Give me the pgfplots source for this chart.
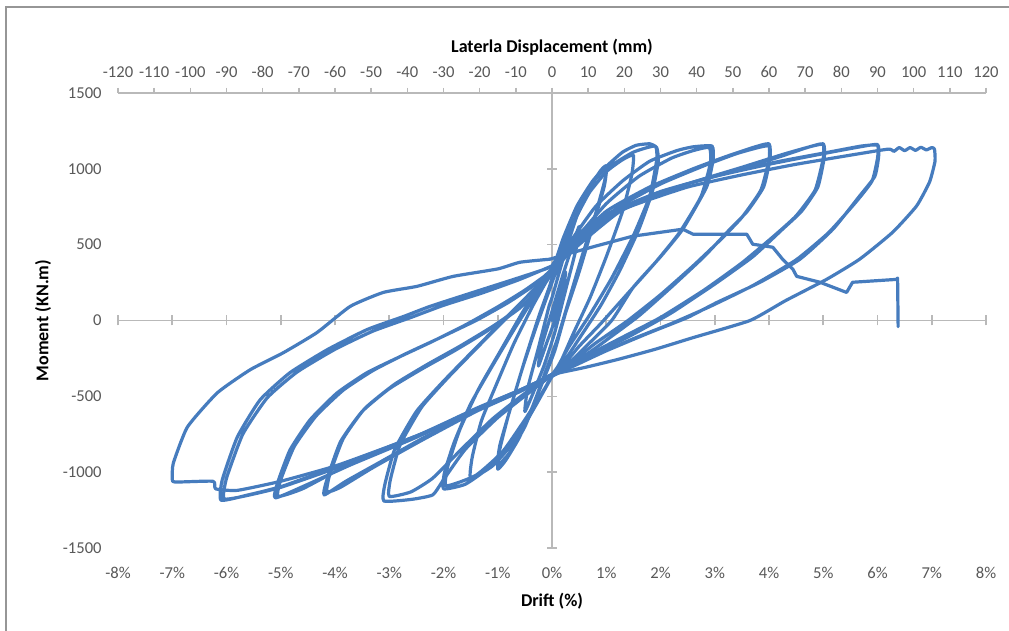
\documentclass[border=0pt]{standalone}
\usepackage{fontspec}
\setmainfont{Carlito}
\usepackage{pgfplots}
\pgfplotsset{compat=1.18}
\definecolor{series}{RGB}{70,124,190}
\definecolor{axgray}{RGB}{185,185,185}
\definecolor{lblgray}{RGB}{89,89,89}
\definecolor{framegray}{RGB}{150,150,150}
\begin{document}
\begin{tikzpicture}
\useasboundingbox (0,0) rectangle (504.5pt,315.5pt);
\fill[white] (0,0) rectangle (504.5pt,315.5pt);
\draw[framegray, line width=0.8pt] (3pt,0) -- (3pt,312pt) -- (504.5pt,312pt);
\pgfplotsset{common/.style={scale only axis, width=434pt, height=227.5pt, at={(59pt,41.5pt)}, anchor=south west, ymin=-1500, ymax=1500},
  hyst/.style={draw=series, mark=none, solid, line width=1.6pt, line join=round, line cap=round, smooth, tension=0.3}}
% top displacement axis
\begin{axis}[common, xmin=-120, xmax=120,
  axis x line=top, axis y line=none,
  xtick={-120,-110,...,120},
  xticklabels={-120,-110,-100,-90,-80,-70,-60,-50,-40,-30,-20,-10,0,10,20,30,40,50,60,70,80,90,100,110,120},
  tick align=outside, major tick length=2.5pt,
  x axis line style={-, draw=axgray, line width=0.8pt},
  tick style={draw=axgray, line width=0.8pt},
  xticklabel style={font=\fontsize{8.3}{10}\selectfont, text=lblgray, anchor=center, yshift=8pt, inner sep=0pt},
  xlabel={Laterla Displacement (mm)},
  every axis x label/.style={at={(axis description cs:0.5,1.101)}, anchor=center, font=\fontsize{9}{11}\selectfont\bfseries, text=black}]
\end{axis}
% labels axis
\begin{axis}[common, xmin=-8, xmax=8,
  axis x line=bottom, axis y line=left,
  axis line style={draw=none}, tick style={draw=none}, major tick length=0pt,
  xtick={-8,-7,...,8},
  xticklabels={-8\%,-7\%,-6\%,-5\%,-4\%,-3\%,-2\%,-1\%,0\%,1\%,2\%,3\%,4\%,5\%,6\%,7\%,8\%},
  ytick={-1500,-1000,-500,0,500,1000,1500},
  yticklabels={-1500,-1000,-500,0,500,1000,1500},
  xticklabel style={font=\fontsize{8.3}{10}\selectfont, text=lblgray, anchor=center, yshift=-12.5pt, inner sep=0pt},
  yticklabel style={font=\fontsize{8.3}{10}\selectfont, text=lblgray, anchor=east, xshift=-8pt, inner sep=0pt},
  xlabel={Drift (\%)}, ylabel={Moment (KN.m)},
  every axis x label/.style={at={(axis description cs:0.5,-0.1165)}, anchor=center, font=\fontsize{9}{11}\selectfont\bfseries, text=black},
  every axis y label/.style={at={(axis description cs:-0.0864,0.5)}, anchor=center, rotate=90, font=\fontsize{9}{11}\selectfont\bfseries, text=black}]
\end{axis}
% data axis
\begin{axis}[common, xmin=-8, xmax=8,
  axis lines=middle, axis line style={-, draw=axgray, line width=0.8pt},
  xtick={-8,-7,...,8}, ytick={-1500,-1000,-500,0,500,1000,1500},
  xticklabels={}, yticklabels={},
  tick align=center, major tick length=5pt,
  tick style={draw=axgray, line width=0.8pt}, clip=false]
\addplot[hyst] coordinates {(0,0) (0.1,150) (0.25,320) (0.2,200) (0.05,0) (-0.1,-150) (-0.25,-300) (-0.2,-180) (-0.05,0) (0,60)
 (0.2,300) (0.4,520) (0.5,620) (0.45,480) (0.25,200) (0.05,-80) (-0.15,-300) (-0.35,-480) (-0.5,-600) (-0.45,-450) (-0.25,-180) (-0.05,100) (0,150)
 (0.2,400) (0.45,680) (0.7,880) (0.9,990) (1.0,1020) (0.97,920) (0.8,700) (0.55,420) (0.3,120) (0.1,-120) (-0.1,-320) (-0.35,-560) (-0.6,-770) (-0.85,-920) (-1.0,-980) (-0.97,-860) (-0.8,-620) (-0.55,-320) (-0.3,-50) (-0.1,150) (0,250)
 (0.25,500) (0.5,750) (0.8,930) (1.0,1000) (0.96,880) (0.75,620) (0.5,320) (0.25,50) (0.05,-200) (-0.2,-430) (-0.5,-700) (-0.8,-880) (-1.0,-950) (-0.96,-820) (-0.75,-560) (-0.5,-260) (-0.25,20) (-0.05,220) (0,280)};
\addplot[hyst] coordinates {(0,280) (0.3,560) (0.6,800) (1.0,980) (1.3,1060) (1.5,1090) (1.47,960) (1.3,720) (1.0,420) (0.7,150) (0.4,-80) (0.15,-280) (0,-360) (-0.3,-560) (-0.7,-800) (-1.1,-960) (-1.5,-1040) (-1.47,-900) (-1.3,-660) (-1.0,-400) (-0.7,-150) (-0.35,100) (-0.1,260) (0,320)
 (0.2,536) (0.46,755) (0.75,920) (1.01,1019) (1.3,1110) (1.55,1155) (1.8,1165) (1.93,1140) (1.96,1050) (1.85,850) (1.6,600) (1.25,330) (0.9,100) (0.5,-120) (0.15,-310) (0,-370) (-0.3,-560) (-0.7,-800) (-1.2,-980) (-1.6,-1080) (-2.0,-1110) (-1.98,-1000) (-1.8,-800) (-1.5,-550) (-1.1,-300) (-0.7,-60) (-0.3,170) (0,320)
 (0.3,580) (0.7,850) (1.1,1020) (1.5,1110) (1.9,1150) (1.93,1060) (1.8,820) (1.5,560) (1.1,280) (0.7,40) (0.3,-180) (0.05,-340) (-0.4,-600) (-0.9,-860) (-1.4,-1020) (-1.95,-1090) (-1.92,-960) (-1.7,-720) (-1.35,-450) (-0.95,-200) (-0.55,50) (-0.2,250) (0,330)};
\addplot[hyst] coordinates {(0,330) (0.3,500) (0.8,750) (1.3,920) (1.8,1050) (2.3,1120) (2.6,1145) (2.95,1150) (2.97,1060) (2.85,880) (2.41,602) (2.0,420) (1.5,220) (1.1,0) (0.6,-180) (0.2,-320) (0,-360) (-0.4,-470) (-1.0,-640) (-1.6,-850) (-2.0,-1050) (-2.2,-1150) (-2.6,-1180) (-3.1,-1190) (-3.08,-1080) (-2.9,-850) (-2.5,-600) (-2.0,-400) (-1.4,-180) (-0.9,0) (-0.4,180) (0,330)
 (0.4,520) (1.0,770) (1.6,950) (2.2,1070) (2.6,1120) (2.9,1140) (2.92,1040) (2.75,820) (2.35,580) (1.9,380) (1.4,180) (0.9,-20) (0.5,-170) (0.15,-320) (0,-355) (-0.5,-480) (-1.1,-650) (-1.7,-860) (-2.2,-1040) (-2.6,-1130) (-3.0,-1160) (-2.98,-1050) (-2.8,-820) (-2.4,-570) (-1.9,-370) (-1.3,-150) (-0.8,30) (-0.35,200) (0,335)};
\addplot[hyst] coordinates {(0,340) (0.3,480) (1.0,720) (1.8,880) (2.6,1000) (3.2,1080) (3.7,1140) (4.0,1165) (4.02,1070) (3.9,880) (3.6,720) (3.28,602) (2.8,420) (2.2,220) (1.6,30) (1.0,-130) (0.5,-260) (0.1,-350) (-0.5,-450) (-1.3,-580) (-2.3,-760) (-3.2,-940) (-3.8,-1060) (-4.2,-1150) (-4.15,-1050) (-3.9,-800) (-3.5,-600) (-3.0,-450) (-2.4,-320) (-1.8,-200) (-1.2,-70) (-0.6,80) (-0.2,230) (0,320)
 (0.4,480) (1.2,740) (2.0,900) (2.8,1020) (3.4,1100) (3.8,1140) (4.0,1150) (4.0,1060) (3.85,860) (3.5,680) (3.1,530) (2.6,360) (2.0,170) (1.4,0) (0.8,-150) (0.3,-290) (0,-355) (-0.6,-470) (-1.4,-600) (-2.4,-790) (-3.3,-970) (-3.9,-1100) (-4.15,-1130) (-4.1,-1020) (-3.85,-780) (-3.45,-580) (-2.9,-420) (-2.3,-290) (-1.7,-170) (-1.1,-40) (-0.5,110) (-0.1,260) (0,330)};
\addplot[hyst] coordinates {(0,350) (0.3,480) (1.2,730) (2.4,890) (3.4,990) (4.2,1080) (4.7,1140) (5.0,1165) (5.02,1080) (4.9,880) (4.6,720) (4.25,602) (3.7,420) (3.0,240) (2.2,50) (1.5,-90) (0.8,-220) (0.2,-330) (0,-355) (-0.5,-450) (-1.3,-570) (-2.5,-770) (-3.7,-950) (-4.5,-1080) (-5.1,-1170) (-5.06,-1072) (-4.83,-854) (-4.46,-655) (-3.96,-477) (-3.41,-344) (-2.80,-238) (-2.25,-146) (-1.6,-30) (-1.0,90) (-0.5,200) (0,330)
 (0.4,470) (1.3,730) (2.5,900) (3.5,1010) (4.3,1100) (4.8,1150) (5.0,1160) (5.0,1070) (4.85,860) (4.5,690) (4.1,560) (3.5,380) (2.8,200) (2.0,20) (1.3,-110) (0.6,-240) (0.1,-345) (-0.6,-460) (-1.5,-600) (-2.7,-800) (-3.9,-980) (-4.6,-1110) (-5.05,-1160) (-5.0,-1050) (-4.75,-830) (-4.35,-630) (-3.85,-460) (-3.3,-330) (-2.7,-220) (-2.1,-120) (-1.4,0) (-0.8,120) (-0.3,240) (0,340)};
\addplot[hyst] coordinates {(0,360) (0.3,490) (1.0,700) (2.0,850) (3.0,950) (4.0,1030) (5.0,1100) (5.6,1140) (6.0,1160) (6.02,1080) (5.95,950) (5.67,821) (5.18,602) (4.57,404) (3.83,251) (3.04,119) (2.5,20) (1.8,-80) (1.0,-200) (0.4,-300) (0,-360) (-0.5,-450) (-1.27,-560) (-2.49,-760) (-3.72,-930) (-4.95,-1090) (-5.6,-1150) (-6.1,-1185) (-6.08,-1053) (-5.80,-768) (-5.38,-523) (-4.83,-344) (-4.14,-192) (-3.41,-60) (-2.74,26) (-2.25,93) (-1.5,180) (-0.8,260) (-0.2,330) (0,360)
 (0.4,500) (1.2,720) (2.2,870) (3.2,970) (4.2,1050) (5.1,1110) (5.7,1150) (6.0,1155) (6.0,1070) (5.9,920) (5.6,780) (5.1,580) (4.5,400) (3.7,230) (2.9,90) (2.2,-20) (1.5,-120) (0.8,-230) (0.2,-330) (0,-360) (-0.6,-460) (-1.4,-580) (-2.6,-780) (-3.8,-950) (-5.0,-1100) (-5.7,-1160) (-6.05,-1175) (-6.0,-1040) (-5.7,-750) (-5.25,-510) (-4.7,-340) (-4.0,-190) (-3.3,-70) (-2.6,20) (-2.0,100) (-1.3,180) (-0.6,270) (0,360)};
\addplot[hyst] coordinates {(0,360) (0.3,520) (0.8,650) (1.5,760) (2.5,880) (3.5,960) (4.5,1030) (5.5,1090) (6.2,1130) (6.3,1115) (6.4,1140) (6.5,1120) (6.6,1140) (6.7,1122) (6.8,1142) (6.9,1125) (7.0,1140) (7.05,1130) (7.06,1050) (6.96,914) (6.72,755) (6.28,582) (5.67,404) (5.06,271) (4.3,130) (3.65,0) (2.6,-113) (1.9,-190) (1.2,-258) (0.6,-310) (0.15,-344) (0,-360) (-0.5,-450) (-1.2,-560) (-2.0,-690) (-3.0,-830) (-4.0,-960) (-5.0,-1060) (-5.8,-1120) (-6.2,-1110) (-6.25,-1060) (-6.95,-1065) (-7.0,-1040) (-6.98,-940) (-6.72,-702) (-6.17,-477) (-5.56,-324) (-4.95,-212) (-4.33,-79) (-3.72,93) (-3.11,185) (-2.49,225) (-1.82,291) (-1.0,340) (-0.59,384) (-0.04,404)};
\addplot[draw=series, mark=none, solid, line width=1.6pt, line join=round, line cap=round] coordinates {(-0.04,404) (0.3,440) (0.8,490) (1.49,556) (2.41,602) (2.6,569) (3.59,569) (3.70,503) (4.07,483) (4.25,404) (4.44,338) (4.51,291) (4.94,252) (5.43,185) (5.54,252) (6.35,271) (6.37,280) (6.38,-40)};
\end{axis}
\end{tikzpicture}
\end{document}
